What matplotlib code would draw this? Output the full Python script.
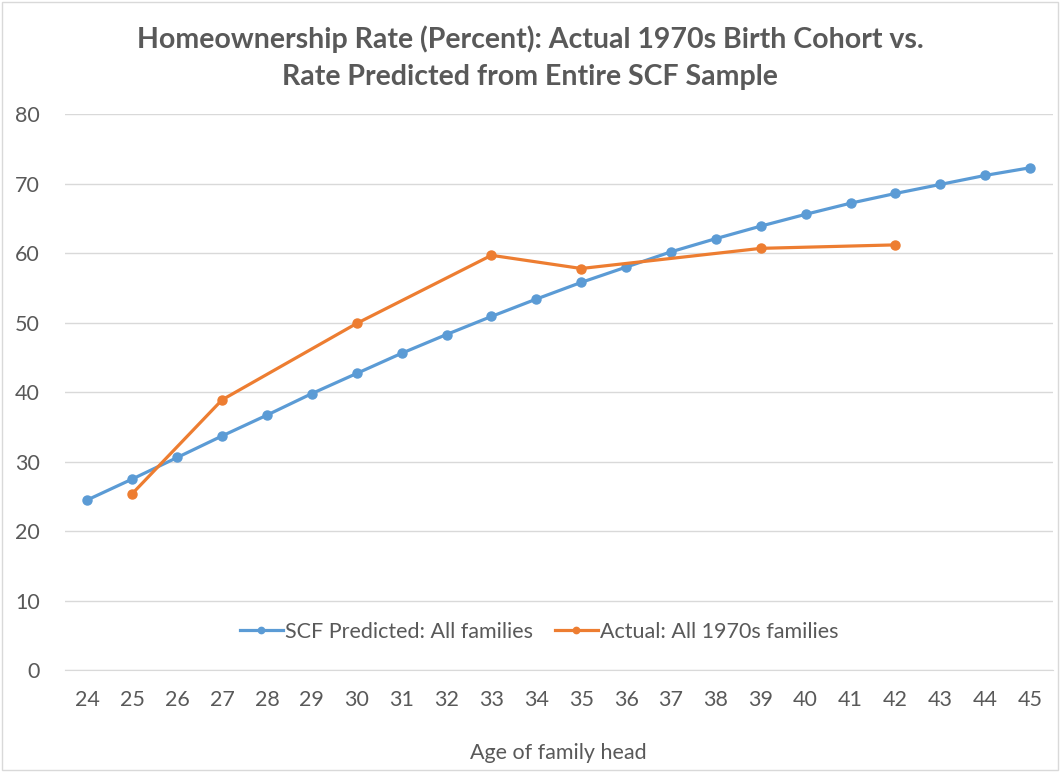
import matplotlib.pyplot as plt
from matplotlib.patches import Rectangle

ages = list(range(24, 46))
scf_predicted = [24.5, 27.5, 30.6, 33.7, 36.7, 39.8, 42.7, 45.6, 48.3, 50.9, 53.4,
                 55.8, 58.0, 60.2, 62.1, 63.9, 65.6, 67.2, 68.6, 69.9, 71.2, 72.3]
actual_ages = [25, 27, 30, 33, 35, 39, 42]
actual_1970s = [25.4, 38.9, 49.9, 59.7, 57.8, 60.7, 61.2]

blue = '#5b9bd5'
orange = '#ed7d31'
txt = '#595959'
plt.rcParams['font.family'] = ['Lato', 'DejaVu Sans']

fig = plt.figure(figsize=(10.6, 7.72), dpi=100)
ax = fig.add_axes([0.0613, 0.132, 0.9317, 0.72])

ax.plot(ages, scf_predicted, color=blue, lw=2.3, marker='o', ms=6.5,
        label='SCF Predicted: All families')
ax.plot(actual_ages, actual_1970s, color=orange, lw=2.3, marker='o', ms=6.5,
        label='Actual: All 1970s families')

ax.set_xlim(23.5, 45.5)
ax.set_ylim(0, 80)
ax.set_xticks(ages)
ax.set_yticks(range(0, 81, 10))
ax.tick_params(length=0, labelsize=15.5, labelcolor=txt, pad=14)
ax.tick_params(axis='y', pad=18)
ax.grid(axis='y', color='#d9d9d9', lw=1)
ax.set_axisbelow(True)
for s in ['top', 'right', 'left']:
    ax.spines[s].set_visible(False)
ax.spines['bottom'].set_color('#d9d9d9')

ax.set_xlabel('Age of family head', fontsize=15.5, color=txt, labelpad=24)
fig.text(0.5, 0.925, 'Homeownership Rate (Percent): Actual 1970s Birth Cohort vs.\nRate Predicted from Entire SCF Sample',
         ha='center', va='center', fontsize=20.5, fontweight='bold', color=txt, linespacing=1.5)

leg = ax.legend(loc='center', bbox_to_anchor=(0.48, 0.069), ncol=2, frameon=False,
                fontsize=15.5, handlelength=2.0, handletextpad=0.1, columnspacing=1.0,
                markerscale=0.7)
for t in leg.get_texts():
    t.set_color(txt)

fig.patches.append(Rectangle((0.002, 0.002), 0.996, 0.996, transform=fig.transFigure,
                             fill=False, edgecolor='#d9d9d9', lw=1))

fig.savefig('out.png', dpi=100)
